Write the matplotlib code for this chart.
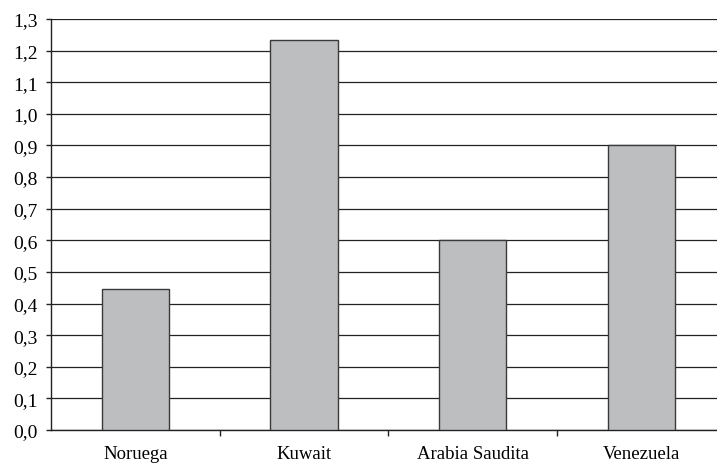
import matplotlib.pyplot as plt
import numpy as np
from matplotlib.ticker import FuncFormatter, MultipleLocator, FixedLocator

paises = ['Noruega', 'Kuwait', 'Arabia Saudita', 'Venezuela']
valores = [0.445, 1.235, 0.60, 0.90]

plt.rcParams['font.family'] = ['Liberation Serif', 'DejaVu Serif']

fig = plt.figure(figsize=(7.17, 4.64), dpi=100)
ax = fig.add_axes([51 / 717, 33 / 464, 674.6 / 717, 411 / 464])

x = np.arange(len(paises))
ax.bar(x, valores, width=0.4, color='#bdbec0', edgecolor='#3a3a3a',
       linewidth=1.0, zorder=3)

ax.set_xlim(-0.5, len(paises) - 0.5)
ax.set_ylim(0, 1.3)
ax.yaxis.set_major_locator(MultipleLocator(0.1))
ax.yaxis.set_major_formatter(FuncFormatter(lambda v, _: f'{v:.1f}'.replace('.', ',')))
ax.grid(axis='y', color='#222222', linewidth=0.9, zorder=0)
ax.set_axisbelow(True)

# etiquetas centradas, marcas entre categorías
ax.set_xticks(x)
ax.set_xticklabels(paises)
ax.xaxis.set_minor_locator(FixedLocator(x[:-1] + 0.5))
ax.tick_params(axis='x', which='major', length=0, pad=10.5, labelsize=13.5)
ax.tick_params(axis='x', which='minor', length=4, width=1, color='#222222')
ax.tick_params(axis='y', length=3.8, width=1, pad=6, labelsize=14, color='#222222')

for s in ['top', 'right']:
    ax.spines[s].set_visible(False)
for s in ['left', 'bottom']:
    ax.spines[s].set_color('#222222')
    ax.spines[s].set_linewidth(1.0)

fig.savefig('out.png', dpi=100)
